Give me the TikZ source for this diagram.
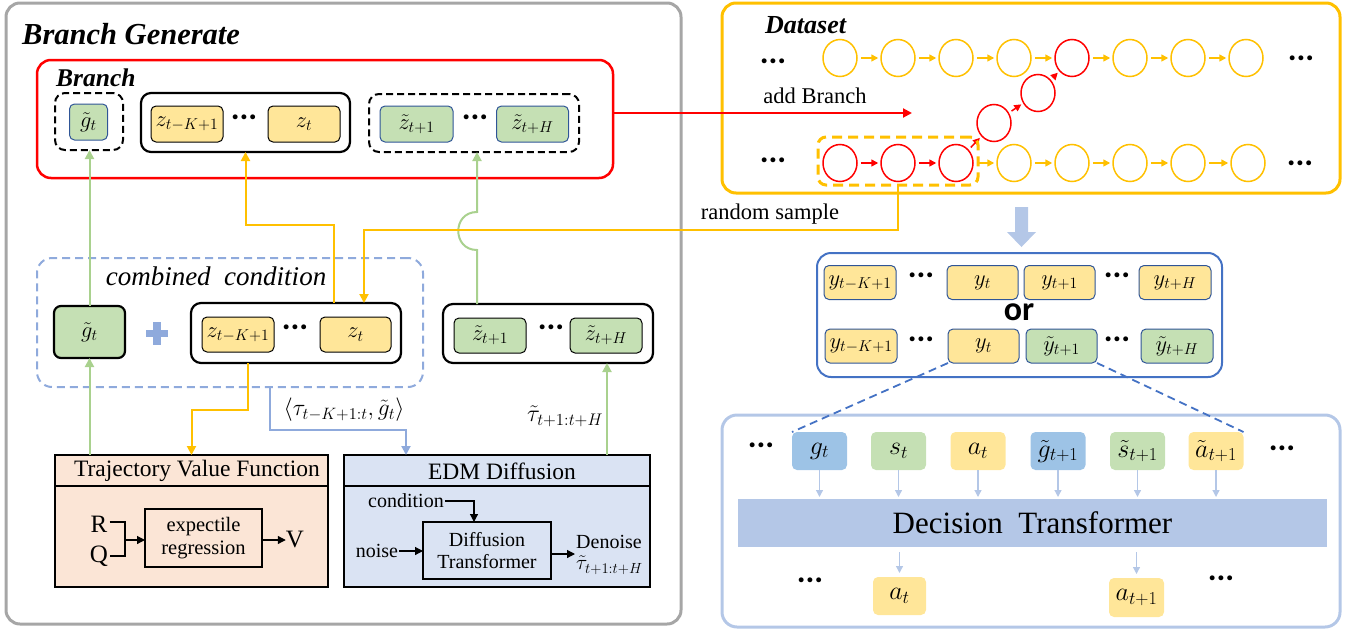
\RequirePackage{fix-cm}
\documentclass[tikz,border=0pt]{standalone}
\usepackage{fontspec}
\setmainfont{Liberation Serif}
\newfontfamily\calib{Carlito}
\usetikzlibrary{arrows.meta,shapes.geometric,calc}

\definecolor{cred}{HTML}{FF0000}
\definecolor{cyel}{HTML}{FFC000}
\definecolor{cgrn}{HTML}{A9D18E}
\definecolor{clb}{HTML}{8FAADC}
\definecolor{cpale}{HTML}{B4C7E7}
\definecolor{cdb}{HTML}{4472C4}
\definecolor{cnav}{HTML}{2F5597}
\definecolor{fy}{HTML}{FFE699}
\definecolor{fg}{HTML}{C5E0B4}
\definecolor{fb}{HTML}{9DC3E6}
\definecolor{fpeach}{HTML}{FBE5D6}
\definecolor{fedm}{HTML}{DAE3F3}
\definecolor{cgray}{HTML}{A6A6A6}

\newcommand\fsz[1]{\fontsize{#1}{#1}\selectfont}

\begin{document}
\begin{tikzpicture}[x=1pt,y=-1pt,
  frame/.style={draw, inner sep=0pt, outer sep=0pt},
  cell/.style={inner sep=0pt, outer sep=0pt, rounded corners=5pt, font=\fsz{22.5}},
  ycell/.style={cell, fill=fy, draw=black, line width=1pt},
  gcell/.style={cell, fill=fg, draw=cnav, line width=1pt},
  gkcell/.style={cell, fill=fg, draw=black, line width=1pt},
  rycell/.style={cell, fill=fy, draw=cnav, line width=1pt, minimum width=72pt, minimum height=34pt},
  rgcell/.style={cell, fill=fg, draw=cnav, line width=1pt, minimum width=72pt, minimum height=34pt},
  tok/.style={cell, minimum width=55pt, minimum height=38pt, font=\fsz{26}},
  dots/.style={inner sep=0pt, font=\calib\bfseries\fsz{33}},
  txt/.style={inner sep=1pt, font=\fsz{20}},
  dsc/.style={draw=cyel, line width=1.5pt, ellipse, minimum width=34pt, minimum height=37pt, inner sep=0pt},
  dsr/.style={dsc, draw=cred},
  tip/.style={-{Triangle[length=9pt,width=9pt]}},
  ktip/.style={-{Triangle[length=8pt,width=8pt]}, line width=1.2pt},
  yarr/.style={tip, draw=cyel, line width=2pt},
  garr/.style={tip, draw=cgrn, line width=2pt},
  barr/.style={tip, draw=clb, line width=2pt},
  carr/.style={-{Triangle[length=7pt,width=7pt]}, line width=1.5pt, shorten <=3pt, shorten >=2pt},
  parr/.style={-{Triangle[length=7pt,width=7pt]}, draw=cpale, line width=1.3pt}
]
\useasboundingbox (0,0) rectangle (1351,629);

% ---------------- Branch generation panel ----------------
\node[frame, draw=cgray, line width=3pt, rounded corners=14pt, minimum width=675pt, minimum height=621pt] (gen) at (343.5,313.5) {};
\node[anchor=west, inner sep=0pt, font=\bfseries\itshape\fsz{30.5}] (gentitle) at (22,34) {Branch Generate};

% branch container
\node[frame, draw=cred, line width=2.5pt, rounded corners=14pt, minimum width=576pt, minimum height=118pt] (br) at (325,119) {};
\node[anchor=west, inner sep=0pt, font=\bfseries\itshape\fsz{25.5}] (brtitle) at (56,78) {Branch};

\node[frame, dashed, dash pattern=on 7pt off 4pt, line width=2pt, rounded corners=10pt, minimum width=68pt, minimum height=57pt] (bg) at (89,121.5) {};
\node[gcell, minimum width=38pt, minimum height=36pt] (bgt) at (88.5,122) {$\tilde g_t$};

\node[frame, line width=2.2pt, rounded corners=10pt, minimum width=209pt, minimum height=59pt] (bz) at (245.5,122.5) {};
\node[ycell, minimum width=72pt, minimum height=36pt] (bz1) at (187,124) {$z_{t-K+1}$};
\node[dots] (bzd) at (244,117) {...};
\node[ycell, minimum width=72pt, minimum height=36pt] (bz2) at (304,124) {$z_t$};

\node[frame, dashed, dash pattern=on 7pt off 4pt, line width=2pt, rounded corners=10pt, minimum width=210pt, minimum height=58pt] (bzt) at (474,123) {};
\node[gcell, minimum width=73pt, minimum height=36pt] (bzt1) at (416.5,124) {$\tilde z_{t+1}$};
\node[dots] (bztd) at (475,117) {...};
\node[gcell, minimum width=72pt, minimum height=36pt] (bzt2) at (532.5,124) {$\tilde z_{t+H}$};

% combined condition
\node[frame, draw=clb, dashed, dash pattern=on 8pt off 5pt, line width=2pt, rounded corners=15pt, minimum width=386pt, minimum height=129pt] (cc) at (230,322.5) {};
\node[inner sep=0pt, font=\itshape\fsz{27}] (cctitle) at (216,276) {combined~~condition};
\node[cell, fill=fg, draw=black, line width=2.2pt, rounded corners=7pt, minimum width=71pt, minimum height=52pt] (cg) at (89.5,332) {$\tilde g_t$};
\fill[clb] (146,329.5) rectangle (168,337);
\fill[clb] (153.3,322) rectangle (160.8,344.5);

\node[frame, line width=2.2pt, rounded corners=10pt, minimum width=210pt, minimum height=60pt] (cz) at (296,333) {};
\node[ycell, minimum width=72pt, minimum height=35pt] (cz1) at (238,334.5) {$z_{t-K+1}$};
\node[dots] (czd) at (295,327) {...};
\node[ycell, minimum width=71pt, minimum height=35pt] (cz2) at (355.5,334.5) {$z_t$};

\node[frame, line width=2.2pt, rounded corners=10pt, minimum width=210pt, minimum height=59pt] (rz) at (548,333.5) {};
\node[gkcell, minimum width=72pt, minimum height=35pt] (rz1) at (490,335.5) {$\tilde z_{t+1}$};
\node[dots] (rzd) at (551,327) {...};
\node[gkcell, minimum width=72pt, minimum height=35pt] (rz2) at (606,335.5) {$\tilde z_{t+H}$};

\node[inner sep=0pt, font=\fsz{23.5}] (lab1) at (344,410) {$\langle\tau_{t-K+1:t},\tilde g_t\rangle$};
\node[inner sep=0pt, font=\fsz{24}] (lab2) at (565,416) {$\tilde\tau_{t+1:t+H}$};

% trajectory value function
\node[frame, fill=fpeach, line width=2pt, minimum width=273pt, minimum height=132pt] (tvf) at (191.5,521) {};
\draw[line width=2pt] (tvf.west |- 0,486) -- (tvf.east |- 0,486);
\node[inner sep=0pt, font=\fsz{23.5}] (tvft) at (197,471) {Trajectory Value Function};
\node[inner sep=2pt, font=\fsz{25}] (R) at (99,524) {R};
\node[inner sep=2pt, font=\fsz{25}] (Q) at (99,556) {Q};
\node[frame, line width=1.2pt, minimum width=117pt, minimum height=58pt, align=center, font=\fsz{20.5}] (ex) at (203.5,538) {expectile\\[2pt]regression};
\node[inner sep=0pt, font=\fsz{25}] (V) at (295,539) {V};
\coordinate (brk) at (125,540);
\draw[line width=1.2pt] (R.east |- 0,522) -- (125,522) -- (125,556) -- (Q.east |- 0,556);
\draw[ktip] (brk) -- (brk -| ex.west);
\draw[ktip] (ex.east |- brk) -- (V.west |- brk);

% EDM diffusion
\node[frame, fill=fedm, line width=2pt, minimum width=306pt, minimum height=132pt] (edm) at (497,521) {};
\draw[line width=2pt] (edm.west |- 0,486) -- (edm.east |- 0,486);
\node[inner sep=0pt, font=\fsz{23.5}] (edmt) at (502,471) {EDM Diffusion};
\node[frame, line width=1.2pt, minimum width=128pt, minimum height=57pt, align=center, font=\fsz{20}] (dtin) at (487,550.5) {Diffusion\\[2pt]Transformer};
\node[txt] (cond) at (406,501) {condition};
\node[txt] (noise) at (377,551) {noise};
\node[txt, anchor=west, align=left] (den) at (575,555) {Denoise\\[1pt]{\fsz{21}$\tilde\tau_{t+1:t+H}$}};
\draw[ktip] (cond.east) -- (474,0 |- cond.east) -- (474,0 |- dtin.north);
\draw[ktip] (noise.east) -- (noise.east -| dtin.west);
\draw[ktip] (dtin.east |- 0,554) -- (den.west |- 0,554);

% connectors of the generation panel
\draw[garr] (cg.north) -- (cg.north |- bg.south);
\draw[yarr] (334,0 |- cz.north) -- (334,225) -- (245.5,225) -- (bz.south);
\draw[garr] (477,0 |- rz.north) -- (477,250) .. controls (452,250) and (452,212) .. (477,212) -- (477,0 |- bzt.south);
\draw[yarr] (248,0 |- cz.south) -- (248,410) -- (191.5,410) -- (tvf.north);
\draw[barr] (270,0 |- cc.south) -- (270,430) -- (406,430) -- (406,0 |- edm.north);
\draw[garr] (89.5,0 |- tvf.north) -- (cg.south);
\draw[garr] (607,0 |- edm.north) -- (607,0 |- rz.south);

% ---------------- Dataset panel ----------------
\node[frame, draw=cyel, line width=3pt, rounded corners=14pt, minimum width=618pt, minimum height=190pt] (ds) at (1031,98) {};
\node[anchor=west, inner sep=0pt, font=\bfseries\itshape\fsz{26}] (dstitle) at (765,25) {Dataset};

\foreach \i/\x in {1/840,2/898,3/956,4/1014,6/1130,7/1188,8/1246} {
  \node[dsc] (t\i) at (\x,58) {};
}
\node[dsr] (t5) at (1072,58) {};
\foreach \i/\x in {1/840,2/898,3/956} {
  \node[dsr] (b\i) at (\x,163) {};
}
\foreach \i/\x in {4/1014,5/1072,6/1130,7/1188,8/1248} {
  \node[dsc] (b\i) at (\x,163) {};
}
\node[dsr] (m1) at (994,123) {};
\node[dsr] (m2) at (1038,93) {};

\foreach \a/\b in {1/2,2/3,3/4,4/5,5/6,6/7,7/8} {
  \draw[carr, draw=cyel, fill=cyel] (t\a) -- (t\b);
}
\foreach \a/\b in {3/4,4/5,5/6,6/7,7/8} {
  \draw[carr, draw=cyel, fill=cyel] (b\a) -- (b\b);
}
\draw[carr, draw=cred] (b1) -- (b2);
\draw[carr, draw=cred] (b2) -- (b3);
\draw[carr, draw=cred] (b3) -- (m1);
\draw[carr, draw=cred] (m1) -- (m2);
\draw[carr, draw=cred] (m2) -- (t5);

\node[dots] (dtl) at (773,61) {...};
\node[dots] (dtr) at (1301,58) {...};
\node[dots] (dbl) at (773,160) {...};
\node[dots] (dbr) at (1300,163) {...};

\node[frame, draw=cyel, dashed, dash pattern=on 10pt off 6pt, line width=3pt, rounded corners=8pt, minimum width=160pt, minimum height=48pt] (samp) at (898,161) {};

% add branch / random sample
\coordinate (addend) at (912,113);
\draw[tip, draw=cred, line width=2pt] (br.east |- addend) -- (addend);
\node[inner sep=0pt, font=\fsz{22.5}] (addlab) at (815,96) {add Branch};
\draw[yarr] (samp.south) -- (samp.south |- 0,230) -- (364,230) -- (364,0 |- cz.north);
\node[inner sep=0pt, font=\fsz{22.5}] (samplab) at (770,214) {random sample};

% ---------------- sampled sequences ----------------
\fill[cpale] (1015,207) -- (1028,207) -- (1028,232) -- (1036,232) -- (1021.5,247) -- (1007,232) -- (1015,232) -- cycle;

\node[frame, draw=cdb, line width=2pt, rounded corners=14pt, minimum width=405pt, minimum height=124pt] (rs) at (1019.5,315) {};
\node[rycell] (ra1) at (860,282.5) {$y_{t-K+1}$};
\node[dots] (rad1) at (921,275) {...};
\node[rycell, minimum width=71pt] (ra2) at (982.5,282.5) {$y_t$};
\node[rycell, minimum width=71pt] (ra3) at (1059.5,282.5) {$y_{t+1}$};
\node[dots] (rad2) at (1117,275) {...};
\node[rycell] (ra4) at (1175,282.5) {$y_{t+H}$};
\node[inner sep=0pt, font=\calib\bfseries\fsz{34}] (or) at (1019,312) {or};
\node[rycell] (rb1) at (861,346) {$y_{t-K+1}$};
\node[dots] (rbd1) at (921,339) {...};
\node[rycell, minimum width=71pt] (rb2) at (983.5,346) {$y_t$};
\node[rgcell, minimum width=71pt] (rb3) at (1061.5,346) {$\tilde y_{t+1}$};
\node[dots] (rbd2) at (1117,339) {...};
\node[rgcell] (rb4) at (1177,346) {$\tilde y_{t+H}$};

% ---------------- decision transformer ----------------
\node[frame, draw=cpale, line width=3pt, rounded corners=15pt, minimum width=618pt, minimum height=212pt] (dtbox) at (1031,521) {};
\node[tok, fill=fb] (gt) at (819.5,451) {$g_t$};
\node[tok, fill=fg] (st) at (898.5,451) {$s_t$};
\node[tok, fill=fy] (at) at (978,451) {$a_t$};
\node[tok, fill=fb] (gt1) at (1058,451) {$\tilde g_{t+1}$};
\node[tok, fill=fg] (st1) at (1137.5,451) {$\tilde s_{t+1}$};
\node[tok, fill=fy] (at1) at (1216,451) {$\tilde a_{t+1}$};
\node[dots] (tdl) at (761,445) {...};
\node[dots] (tdr) at (1282,448) {...};
\node[frame, draw=none, fill=cpale, minimum width=589pt, minimum height=48pt, font=\fsz{31}] (dtbar) at (1032.5,523) {Decision~~Transformer};
\foreach \n in {gt,st,at,gt1,st1,at1} {
  \draw[parr, shorten >=2pt] (\n.south) -- (\n.south |- dtbar.north);
}
\node[tok, fill=fy, minimum width=53pt] (oa) at (899.5,596) {$a_t$};
\node[tok, fill=fy, minimum height=39pt] (oa1) at (1136.5,597.5) {$a_{t+1}$};
\draw[parr, shorten <=5pt, shorten >=4pt] (oa.north |- dtbar.south) -- (oa.north);
\draw[parr, shorten <=5pt, shorten >=4pt] (oa1.north |- dtbar.south) -- (oa1.north);
\node[dots] (odl) at (810,580) {...};
\node[dots] (odr) at (1221,578) {...};

\draw[draw=cdb, dashed, dash pattern=on 8pt off 5pt, line width=1.8pt] (rb2.south west) -- (gt.north west);
\draw[draw=cdb, dashed, dash pattern=on 8pt off 5pt, line width=1.8pt] (rb3.south east) -- (at1.north east);
\end{tikzpicture}
\end{document}
